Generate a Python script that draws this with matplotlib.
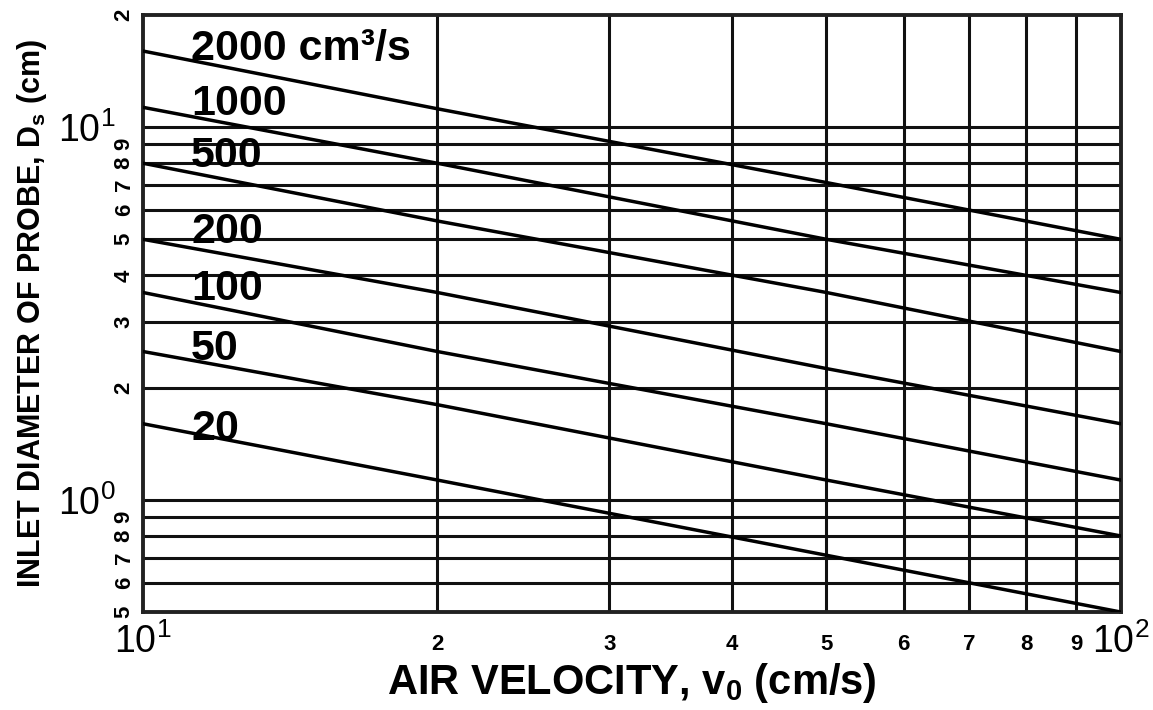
import matplotlib
matplotlib.use('Agg')
from matplotlib import pyplot as plt

plt.rcParams['font.family'] = ['Liberation Sans', 'DejaVu Sans']
plt.rcParams['mathtext.fontset'] = 'custom'
plt.rcParams['mathtext.rm'] = 'Liberation Sans'
plt.rcParams['mathtext.it'] = 'Liberation Sans'
plt.rcParams['mathtext.bf'] = 'Liberation Sans:bold'

# air velocity (cm/s) and inlet diameter (cm)
velocidade = [10, 20, 50, 100]
d_2000 = [16.0, 11.2, 7.1, 5.0]
d_1000 = [11.3, 8.0, 5.0, 3.6]
d_500 = [8.0, 5.6, 3.6, 2.5]
d_200 = [5.0, 3.6, 2.25, 1.6]
d_100 = [3.6, 2.5, 1.6, 1.13]
d_50 = [2.5, 1.8, 1.13, 0.8]
d_20 = [1.6, 1.13, 0.71, 0.5]

series = [d_2000, d_1000, d_500, d_200, d_100, d_50, d_20]
rotulos = ['2000 cm³/s', '1000', '500', '200', '100', '50', '20']
rotulos_y = [15.15, 10.8, 7.82, 4.89, 3.44, 2.37, 1.45]

grade_x = [20, 30, 40, 50, 60, 70, 80, 90]
grade_y = [0.6, 0.7, 0.8, 0.9, 1, 2, 3, 4, 5, 6, 7, 8, 9, 10]

fig = plt.figure(figsize=(11.53, 7.10), dpi=100)
ax = fig.add_axes([0.124, 0.138, 0.848, 0.841])
ax.set_xscale('log')
ax.set_yscale('log')
ax.set_xlim(10, 100)
ax.set_ylim(0.5, 20)

for gx in grade_x:
    ax.axvline(gx, color='#111111', lw=2.2, zorder=1)
for gy in grade_y:
    ax.axhline(gy, color='#111111', lw=2.2, zorder=1)

for dados in series:
    ax.plot(velocidade, dados, color='black', lw=2.5, zorder=3)

for texto, yy in zip(rotulos, rotulos_y):
    ax.text(11.2, yy, texto, fontsize=31, fontweight='bold', va='baseline',
            ha='left', zorder=4)

for s in ax.spines.values():
    s.set_linewidth(2.8)
    s.set_color('#222222')

# x ticks
ax.set_xticks([10, 100])
ax.set_xticklabels([r'$\mathregular{10^1}$', r'$\mathregular{10^2}$'], fontsize=27)
ax.set_xticks(grade_x, minor=True)
ax.set_xticklabels([str(int(v / 10)) for v in grade_x], minor=True,
                   fontsize=16, fontweight='bold')
ax.tick_params(axis='x', which='major', length=0, pad=8)
ax.tick_params(axis='x', which='minor', length=0, pad=16)

# y ticks
ax.set_yticks([1, 10])
ax.set_yticklabels([r'$\mathregular{10^0}$', r'$\mathregular{10^1}$'], fontsize=27)
menores_y = [0.5, 0.6, 0.7, 0.8, 0.9, 2, 3, 4, 5, 6, 7, 8, 9, 20]
ax.set_yticks(menores_y, minor=True)
rot_menores = []
for v in menores_y:
    if v < 1:
        rot_menores.append(str(int(round(v * 10))))
    elif v < 10:
        rot_menores.append(str(int(v)))
    else:
        rot_menores.append(str(int(v / 10)))
ax.set_yticklabels(rot_menores, minor=True, fontsize=16, fontweight='bold',
                   rotation=90, va='center')
ax.tick_params(axis='y', which='major', length=0, pad=20)
ax.tick_params(axis='y', which='minor', length=0, pad=6)

ax.set_xlabel(r'AIR VELOCITY, $\mathbf{v_0}$ (cm/s)', fontsize=30,
              fontweight='bold', labelpad=0)
ax.set_ylabel(r'INLET DIAMETER OF PROBE, $\mathbf{D_s}$ (cm)',
              fontsize=22, fontweight='bold', labelpad=6)

plt.savefig('out.png', dpi=100)
plt.close(fig)
